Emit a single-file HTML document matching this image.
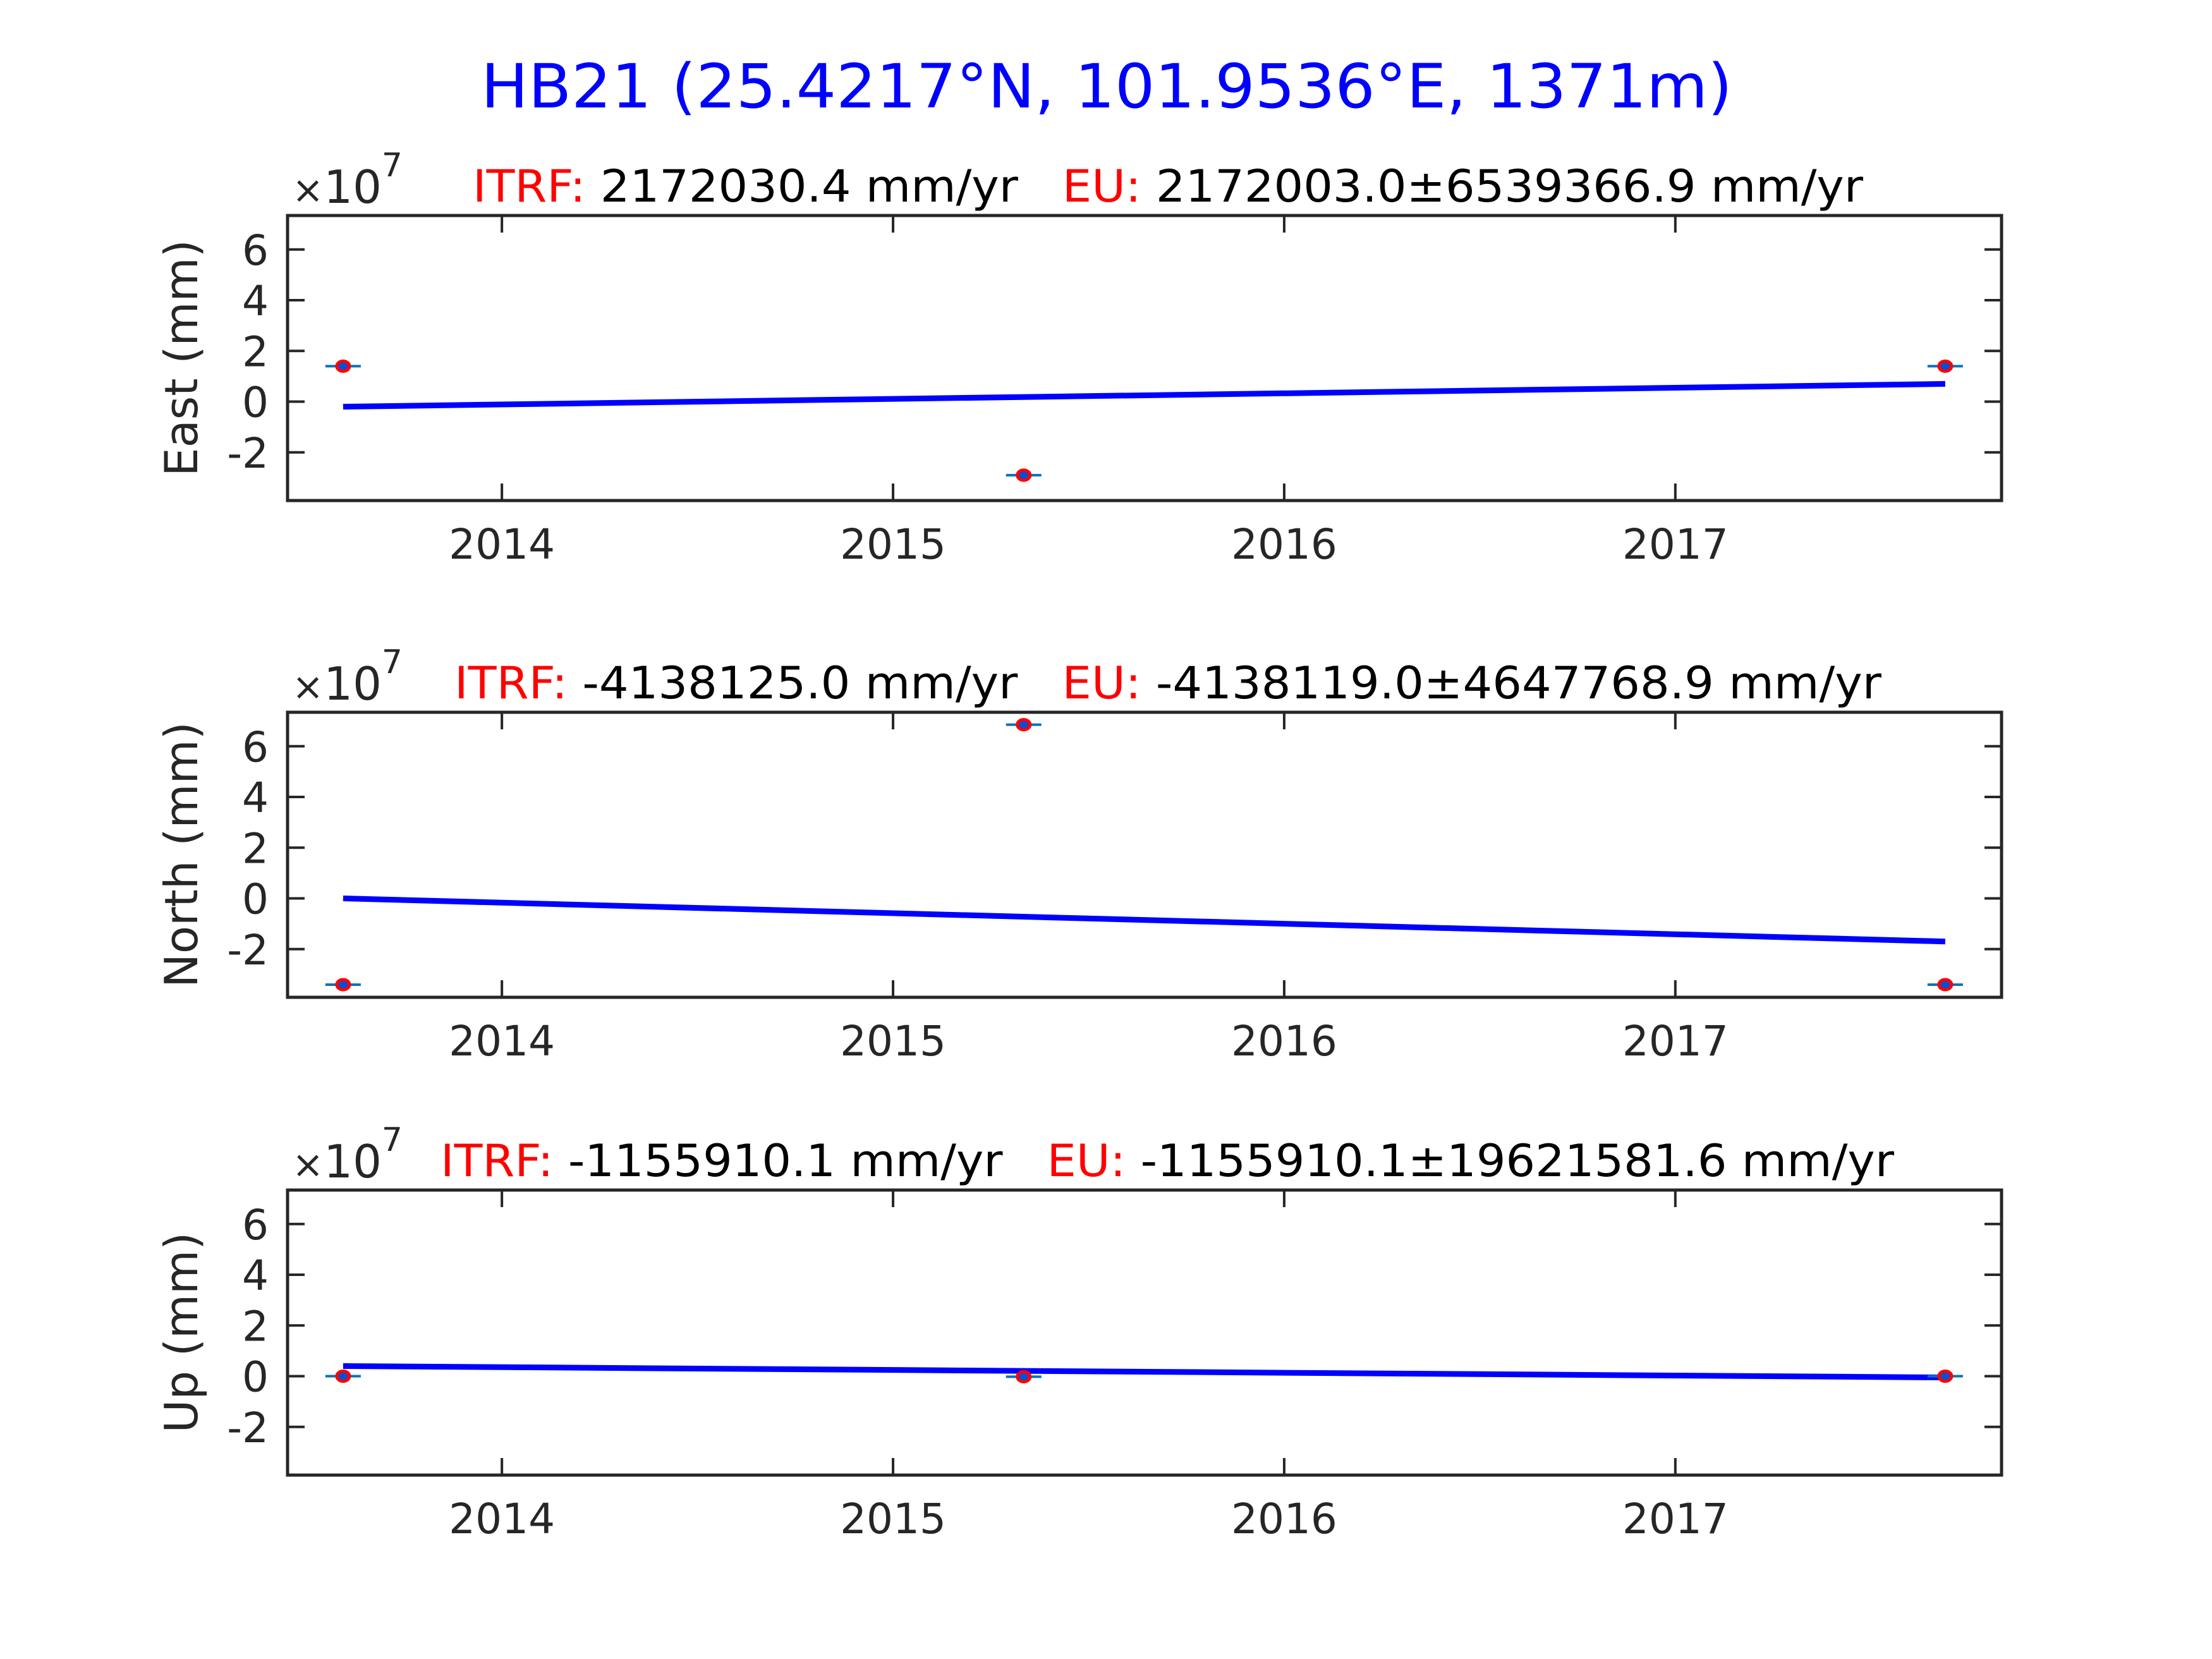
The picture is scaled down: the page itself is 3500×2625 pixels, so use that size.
<!DOCTYPE html>
<html><head><meta charset="utf-8"><style>
html,body{margin:0;padding:0;background:#fff;}
svg{display:block;font-family:"Liberation Sans","DejaVu Sans",sans-serif;}
</style></head>
<body>
<svg id="fig" width="3500" height="2625" viewBox="0 0 3500 2625" xmlns="http://www.w3.org/2000/svg">
<rect width="3500" height="2625" fill="#fff"/>
<text x="1751" y="170" text-anchor="middle" font-family="DejaVu Sans, sans-serif" font-size="96" fill="#0000ff" textLength="1980" lengthAdjust="spacingAndGlyphs">HB21 (25.4217°N, 101.9536°E, 1371m)</text>
</svg>
<script>
// ---- data ----
const obsYears = [2013.594, 2015.334, 2017.690];
const eastValues = [1.4, -2.9, 1.4];
const northValues = [-3.4, 6.85, -3.4];
const upValues = [0.0, -0.02, 0.0];
const eastTrend = [-0.2, 0.7];
const northTrend = [0.0, -1.7];
const upTrend = [0.4, -0.05];
const xTickYears = [2014, 2015, 2016, 2017];
const yTickValues = [-2, 0, 2, 4, 6];
const yLabels = ['East (mm)', 'North (mm)', 'Up (mm)'];
const itrfTexts = ['2172030.4 mm/yr', '-4138125.0 mm/yr', '-1155910.1 mm/yr'];
const euTexts = ['2172003.0±6539366.9 mm/yr', '-4138119.0±4647768.9 mm/yr', '-1155910.1±19621581.6 mm/yr'];

const NS = 'http://www.w3.org/2000/svg';
const svg = document.getElementById('fig');
const X0 = 455, X1 = 3167, XMIN = 2013.452, XMAX = 2017.834;
const YMIN = -3.9, YMAX = 7.34;
const panelTops = [341, 1127, 1883];
const panelH = 451;
const subtitleX0 = [748, 719, 697];
const subtitleX1 = [2948, 2977, 2997];
function xs(v){ return X0 + (v - XMIN) / (XMAX - XMIN) * (X1 - X0); }
function mk(tag, attrs){ const e = document.createElementNS(NS, tag); for (const k in attrs) e.setAttribute(k, attrs[k]); return e; }

const series = [eastValues, northValues, upValues];
const trends = [eastTrend, northTrend, upTrend];
const names = ['east', 'north', 'up'];

for (let p = 0; p < 3; p++) {
  const top = panelTops[p], bot = top + panelH;
  const ys = v => bot - (v - YMIN) / (YMAX - YMIN) * panelH;
  const g = mk('g', {});
  
  
  svg.appendChild(g);

  for (const t of xTickYears) {
    const x = xs(t);
    const t1 = mk('line', {x1:x, y1:bot, x2:x, y2:bot-27, stroke:'#262626', 'stroke-width':4});
    
    
    g.appendChild(t1);
    const t2 = mk('line', {x1:x, y1:top, x2:x, y2:top+27, stroke:'#262626', 'stroke-width':4});
    
    
    g.appendChild(t2);
    const lb = mk('text', {x:x, y:bot+92, 'text-anchor':'middle', 'font-size':66, fill:'#262626', 'font-family':'DejaVu Sans, sans-serif'});
    lb.textContent = String(t);
    
    
    g.appendChild(lb);
  }
  for (const t of yTickValues) {
    const y = ys(t);
    const t1 = mk('line', {x1:X0, y1:y, x2:X0+27, y2:y, stroke:'#262626', 'stroke-width':4});
    
    
    g.appendChild(t1);
    const t2 = mk('line', {x1:X1, y1:y, x2:X1-27, y2:y, stroke:'#262626', 'stroke-width':4});
    
    
    g.appendChild(t2);
    const lb = mk('text', {x:425, y:y+24, 'text-anchor':'end', 'font-size':66, fill:'#262626', 'font-family':'DejaVu Sans, sans-serif'});
    lb.textContent = String(t);
    
    
    g.appendChild(lb);
  }
  const box = mk('rect', {x:X0, y:top, width:X1-X0, height:panelH, fill:'none', stroke:'#262626', 'stroke-width':5});
  
  
  g.appendChild(box);

  const cy = top + panelH/2;
  const yl = mk('text', {x:0, y:0, transform:'translate(312,'+cy+') rotate(-90)', 'text-anchor':'middle', 'font-size':72, fill:'#262626', 'font-family':'DejaVu Sans, sans-serif'});
  yl.textContent = yLabels[p];
  
  
  g.appendChild(yl);

  const ex = mk('text', {x:462, y:top-20, 'font-size':72, fill:'#262626', 'font-family':'DejaVu Sans, sans-serif'});
  ex.innerHTML = '<tspan font-size="60">×</tspan>10<tspan dy="-42" font-size="52">7</tspan>';
  
  
  g.appendChild(ex);

  const st = mk('text', {x:subtitleX0[p], y:top-22, 'font-size':70, fill:'#000', 'font-family':'DejaVu Sans, sans-serif', textLength:subtitleX1[p]-subtitleX0[p], lengthAdjust:'spacingAndGlyphs'});
  st.innerHTML = '<tspan fill="#ff0000">ITRF:</tspan> ' + itrfTexts[p] + '   <tspan fill="#ff0000">EU:</tspan> ' + euTexts[p];
  st.setAttribute('xml:space', 'preserve');
  st.style.whiteSpace = 'pre';
  
  
  g.appendChild(st);

  const tr = trends[p];
  const ln = mk('line', {x1:xs(obsYears[0]), y1:ys(tr[0]), x2:xs(obsYears[obsYears.length-1]), y2:ys(tr[1]), stroke:'#0000ff', 'stroke-width':9});
  
  
  g.appendChild(ln);

  const vals = series[p];
  for (let i = 0; i < obsYears.length; i++) {
    const x = xs(obsYears[i]), y = ys(vals[i]);
    const eb = mk('line', {x1:x-28, y1:y, x2:x+28, y2:y, stroke:'#0072bd', 'stroke-width':4});
    
    
    g.appendChild(eb);
    const c = mk('ellipse', {cx:x, cy:y, rx:10, ry:8, fill:'#0050d8', stroke:'#ff0000', 'stroke-width':5});
    
    
    g.appendChild(c);
  }
}
</script>
</body></html>
